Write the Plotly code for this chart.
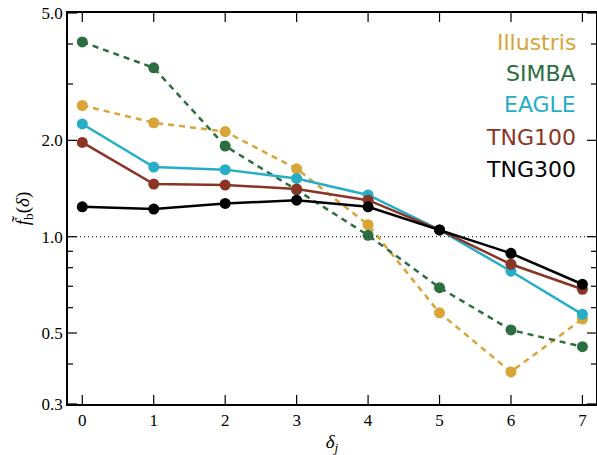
import math
import plotly.graph_objects as go

x_vals = [0, 1, 2, 3, 4, 5, 6, 7]

names = ["Illustris", "SIMBA", "EAGLE", "TNG100", "TNG300"]
illustris = [2.57, 2.27, 2.13, 1.63, 1.09, 0.578, 0.378, 0.553]
simba = [4.06, 3.37, 1.92, 1.40, 1.01, 0.693, 0.511, 0.453]
eagle = [2.25, 1.65, 1.62, 1.52, 1.35, 1.05, 0.78, 0.572]
tng100 = [1.97, 1.46, 1.45, 1.41, 1.30, 1.05, 0.82, 0.685]
tng300 = [1.24, 1.22, 1.27, 1.30, 1.24, 1.05, 0.887, 0.71]

series = [illustris, simba, eagle, tng100, tng300]
colors = ["#D9A537", "#2C6E3F", "#27ADC8", "#8A3424", "#000000"]
dashes = ["6px,5px", "6px,5px", "solid", "solid", "solid"]

y_major = [0.3, 0.5, 1.0, 2.0, 5.0]
y_major_text = ["0.3", "0.5", "1.0", "2.0", "5.0"]
y_minor = [0.4, 0.6, 0.7, 0.8, 0.9, 3.0, 4.0]

x_range = [-0.2, 7.19]
y_range = [0.3, 5.0]
y_log_range = [math.log10(y_range[0]), math.log10(y_range[1])]

fig = go.Figure()

fig.add_hline(y=1.0, line=dict(color="#333333", width=1.3, dash="1px,3px"))

for name, vals, col, dsh in zip(names, series, colors, dashes):
    fig.add_trace(go.Scatter(
        x=x_vals, y=vals, name=name, mode="lines+markers",
        line=dict(color=col, width=2.5, dash=dsh),
        marker=dict(color=col, size=11),
        showlegend=False,
    ))

# inward tick marks on all four sides, drawn as pixel-sized shapes anchored on the frame
tick_line = dict(color="black", width=1.2)
MAJOR, MINOR = 9, 5
for xv in x_vals:
    for anchor, sign in [(0, 1), (1, -1)]:
        fig.add_shape(type="line", xref="x", yref="y domain", ysizemode="pixel",
                      yanchor=anchor, x0=xv, x1=xv, y0=0, y1=sign * MAJOR, line=tick_line)
for vals, length in [(y_major, MAJOR), (y_minor, MINOR)]:
    for yv in vals:
        for anchor, sign in [(0, 1), (1, -1)]:
            fig.add_shape(type="line", xref="x domain", yref="y", xsizemode="pixel",
                          xanchor=anchor, x0=0, x1=sign * length, y0=yv, y1=yv, line=tick_line)

# text-only legend
leg_y = [0.925, 0.845, 0.765, 0.682, 0.60]
for name, col, yy in zip(names, colors, leg_y):
    fig.add_annotation(
        text=name, xref="paper", yref="paper", x=0.966, y=yy,
        xanchor="right", yanchor="middle", showarrow=False,
        font=dict(family="DejaVu Sans", size=22, color=col),
    )

serif = "Liberation Serif"
fig.update_layout(
    xaxis=dict(
        range=x_range, tickmode="array", tickvals=x_vals, ticktext=[str(v) for v in x_vals],
        ticks="", showline=True, linecolor="black", linewidth=1.5, mirror=True,
        showgrid=False, zeroline=False, automargin=False,
        tickfont=dict(family=serif, size=17, color="black"),
        title=dict(text="<i>δ<sub>j</sub></i>", font=dict(family=serif, size=19, color="black"), standoff=6),
    ),
    yaxis=dict(
        type="log", range=y_log_range,
        tickmode="array", tickvals=y_major, ticktext=y_major_text,
        ticks="", showline=True, linecolor="black", linewidth=1.5, mirror=True,
        showgrid=False, zeroline=False, automargin=False,
        tickfont=dict(family=serif, size=17, color="black"),
        title=dict(text="<i>f̃</i><sub>b</sub>(<i>δ</i>)", font=dict(family=serif, size=19, color="black"), standoff=7),
    ),
)

fig.update_layout(
    width=597, height=455,
    margin=dict(l=68, r=1, t=13, b=51),
    paper_bgcolor="white", plot_bgcolor="white",
)

fig.write_html("out.html", config={"displayModeBar": False},
               post_script="document.body.style.margin='0';document.body.style.padding='0';")
